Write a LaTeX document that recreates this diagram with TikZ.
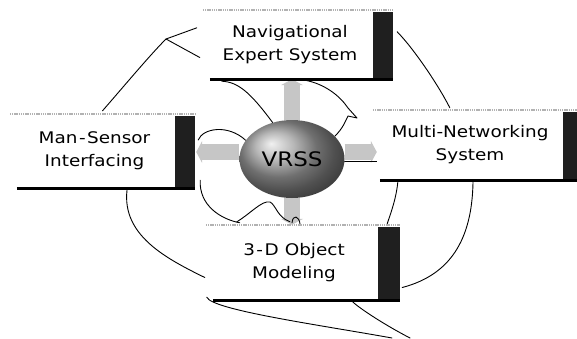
\documentclass[tikz,border=0pt]{standalone}
\usepackage{fontspec}
\newfontfamily\boxfont{DejaVu Sans}[FakeStretch=1.15]
\usetikzlibrary{calc,arrows.meta,shapes.geometric,backgrounds}
\newcommand{\decobox}[2]{%
  \draw[topedge] ($(#1.north west)+(-4,0)$) -- ($(#1.north east)+(#2,0)$);
  \fill[darkbar] ($(#1.north east)+(0,2)$) rectangle ($(#1.south east)+(#2,0)$);
  \draw[bottomedge] ($(#1.south west)+(3,0)$) -- ($(#1.south east)+(#2,0)$);
}
\begin{document}
\begin{tikzpicture}[x=1pt,y=-1pt,
  box/.style={rectangle, fill=white, inner sep=0pt, align=center,
    font=\boxfont\fontsize{16}{23}\selectfont},
  topedge/.style={draw=gray!60, line width=1.5pt, dash pattern=on 1.3pt off 0.9pt},
  darkbar/.style={fill=black!88},
  bottomedge/.style={draw=black, line width=2.6pt},
  conn/.style={draw=black, line width=0.9pt, line cap=round, line join=round},
  halftone/.style={draw=gray!45, line width=16pt, -{Triangle[width=22pt,length=6pt]}}]
\useasboundingbox (0,0) rectangle (577,338);

% boxes
\node[box, minimum width=166pt, minimum height=69pt] (nav) at (290,44.5) {Navigational\\Expert System};
\node[box, minimum width=161pt, minimum height=74pt] (man) at (94.5,151) {Man\kern1.5pt-\kern1.5pt Sensor\\Interfacing};
\node[box, minimum width=186pt, minimum height=70pt] (multi) at (470,145) {Multi-Networking\\System};
\node[box, minimum width=168pt, minimum height=75pt] (obj) at (294,262.5) {3\kern1.5pt-\kern1.5pt D\hspace{6pt}Object\\Modeling};

\decobox{nav}{20}
\decobox{man}{20}
\decobox{multi}{14}
\decobox{obj}{22}

% centre
\node[ellipse, shading=ball, ball color=gray!75, minimum width=105pt, minimum height=78pt,
  inner sep=0pt, font=\boxfont\fontsize{20}{20}\selectfont] (vrss) at (292,159) {VRSS};

\coordinate (fork) at (166,39);
\coordinate (lowA) at (392,338);
\coordinate (lowB) at (410,338);

\begin{scope}[on background layer]
  % wide grey arrows
  \draw[halftone] (vrss.north) -- (vrss.north |- nav.south);
  \draw[halftone] (vrss.south) -- (vrss.south |- obj.north);
  \draw[halftone] ([yshift=7pt]vrss.west) -- ($([yshift=7pt]vrss.west -| man.east)+(21,0)$);
  \draw[halftone] ([yshift=7pt]vrss.east) -- ([yshift=7pt]vrss.east -| multi.west);

  % thin connectors
  \draw[conn] ($(man.north)+(8,-3)$) .. controls (125,85) and (150,55) .. (fork)
     -- ($(nav.north west)+(-10,18)$);
  \draw[conn] (fork) -- ($(nav.west)+(-7,13)$);
  \draw[conn] ($(nav.north east)+(24,22)$) .. controls (415,50) and (440,88) .. ($(multi.north west)+(73,-2)$);
  \draw[conn] ($(nav.south west)+(15,2)$) .. controls (238,82) and (250,92) .. (vrss.118);
  \draw[conn] ($(nav.south)+(15,1)$) .. controls (325,84) and (340,96) .. (348,108)
     -- (357,118) -- (348,116) .. controls (345,122) and (343,128) .. (vrss.28);
  \draw[conn] ($(man.east)+(23,-11)$) .. controls (203,128) and (228,124) .. (vrss.158);
  \draw[conn] (vrss.-3) -- (multi.west |- vrss.-3);
  \draw[conn] ($(man.south east)+(25,-8)$) .. controls (199,205) and (220,219) .. ($(obj.north west)+(30,-2)$);
  \draw[conn] ($(obj.north west)+(27,-3)$) .. controls (250,214) and (262,200) .. (270,202)
     .. controls (276,205) and (277,217) .. ($(obj.north)+(-4,-3)$);
  \draw[conn] ($(obj.north)+(-2,-2)$) .. controls (293,214) and (299,216) .. ($(obj.north)+(6,-1)$);
  \draw[conn] ($(multi.south west)+(21,2)$) .. controls (396,200) and (390,215) .. ($(obj.north east)+(9,-1)$);
  \draw[conn] ($(multi.south)+(3,2)$) .. controls (472,240) and (450,275) .. ($(obj.east)+(24,25)$);
  \draw[conn] ($(man.south)+(32.5,2)$) .. controls (122,235) and (165,258) .. ($(obj.west)+(-5,15)$);
  \draw[conn] ($(obj.south west)+(-3,-3)$) .. controls (212,310) and (320,325) .. (lowA);
  \draw[conn] ($(obj.south)+(59,2)$) .. controls (362,310) and (385,325) .. (lowB);
\end{scope}
\end{tikzpicture}
\end{document}
